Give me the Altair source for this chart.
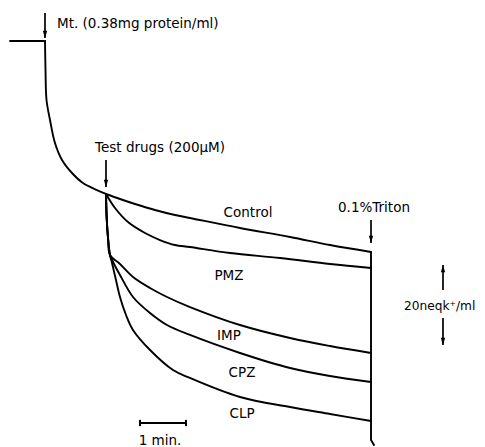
import altair as alt
import pandas as pd

# time in minutes (Mt. addition at t=0), K+ released in neq/ml (downward)
base_t = [-0.76, 0.0]
base_k = [0.0, 0.0]

init_t = [0.0, 0.011, 0.033, 0.109, 0.217, 0.370, 0.587, 0.826, 1.130, 1.326]
init_k = [0.0, 7.44, 15.13, 20.26, 26.15, 30.51, 33.85, 36.41, 38.21, 39.23]

control_t = [1.326, 1.630, 1.957, 2.391, 2.826, 3.152, 4.239, 5.326, 6.196, 7.087]
control_k = [39.23, 40.51, 41.79, 43.33, 44.62, 45.38, 47.95, 50.26, 52.31, 54.10]

pmz_t = [1.326, 1.522, 1.804, 2.174, 2.500, 2.826, 3.152, 4.022, 5.109, 6.196, 7.087]
pmz_k = [39.23, 42.82, 46.41, 49.23, 51.03, 52.31, 52.82, 54.36, 55.64, 57.18, 58.21]

stem_t = [1.326, 1.341, 1.370, 1.413]
stem_k = [39.23, 45.38, 50.51, 54.87]

imp_t = [1.630, 1.913, 2.283, 2.652, 3.152, 4.239, 5.326, 6.196, 7.087]
imp_k = [57.18, 60.51, 63.33, 65.64, 68.21, 72.82, 76.15, 78.21, 80.00]

cpz_t = [1.457, 1.630, 1.913, 2.283, 2.652, 3.152, 4.239, 5.326, 6.196, 7.087]
cpz_k = [56.15, 60.00, 65.64, 69.74, 72.82, 75.38, 80.00, 83.85, 85.90, 87.44]

clp_t = [1.457, 1.543, 1.630, 1.761, 1.913, 2.283, 2.783, 3.152, 4.239, 5.326, 6.196, 7.087]
clp_k = [56.92, 61.28, 65.64, 70.26, 74.10, 79.23, 84.36, 86.41, 91.28, 93.85, 95.64, 97.44]

triton_t = [7.087, 7.087, 7.152]
triton_k = [54.10, 102.31, 103.59]

# annotations
label_text = ["Mt. (0.38mg protein/ml)", "Test drugs (200\u03bcM)", "Control", "PMZ", "IMP",
              "CPZ", "CLP", "0.1%Triton", "1 min."]
label_t = [0.261, 1.087, 4.413, 4.0, 4.0, 4.283, 4.283, 7.152, 2.5]
label_k = [-3.33, 28.46, 45.13, 61.28, 76.67, 86.15, 96.67, 43.85, 103.6]
label_align = ["left", "left", "center", "center", "center", "center", "center", "center", "center"]

scale_text = ["20neqk\u207a/ml"]
scale_t = [7.804]
scale_k = [68.97]

arrow_t = [0.0, 1.326, 7.087, 8.652, 8.652]
arrow_from = [-7.18, 30.51, 45.90, 63.85, 71.03]
arrow_to = [-0.77, 37.44, 51.79, 57.44, 77.95]
arrow_dir = ["down", "down", "down", "up", "down"]

bar_t = [2.065, 3.065]
bar_k = 97.95

curve_rows, straight_rows = [], []
def add(rows, name, ts, ks):
    for i, (t, k) in enumerate(zip(ts, ks)):
        rows.append({"series": name, "i": i, "t": t, "k": k})

add(straight_rows, "base", base_t, base_k)
add(curve_rows, "init", init_t, init_k)
add(curve_rows, "Control", control_t, control_k)
add(curve_rows, "PMZ", pmz_t, pmz_k)
add(curve_rows, "IMP", stem_t + imp_t, stem_k + imp_k)
add(curve_rows, "CPZ", stem_t + cpz_t, stem_k + cpz_k)
add(curve_rows, "CLP", stem_t + clp_t, stem_k + clp_k)
add(straight_rows, "Triton", triton_t, triton_k)
curves = pd.DataFrame(curve_rows)
straights = pd.DataFrame(straight_rows)

labels = pd.DataFrame({"text": label_text, "t": label_t, "k": label_k, "align": label_align})
scale_lab = pd.DataFrame({"text": scale_text, "t": scale_t, "k": scale_k})
arrows = pd.DataFrame({"t": arrow_t, "k1": arrow_from, "k2": arrow_to, "dir": arrow_dir})
bar = pd.DataFrame({"t1": [bar_t[0]], "t2": [bar_t[1]], "k": [bar_k]})
bar_ends = pd.DataFrame({"t": bar_t, "k1": [bar_k - 0.8] * 2, "k2": [bar_k + 0.8] * 2})

xs = alt.Scale(domain=[-0.8043, 9.3913], nice=False, zero=False)
ys = alt.Scale(domain=[-8.4615, 104.103], reverse=True, nice=False, zero=False)
X = lambda f: alt.X(f, type="quantitative", scale=xs, axis=None)
Y = lambda f: alt.Y(f, type="quantitative", scale=ys, axis=None)

curve_lines = alt.Chart(curves).mark_line(
    color="black", strokeWidth=1.9, strokeCap="round", interpolate="catmull-rom").encode(
    x=X("t"), y=Y("k"), detail="series:N", order="i:Q")
straight_lines = alt.Chart(straights).mark_line(
    color="black", strokeWidth=1.9, strokeCap="round").encode(
    x=X("t"), y=Y("k"), detail="series:N", order="i:Q")

shafts = alt.Chart(arrows).mark_rule(color="black", strokeWidth=1.7).encode(
    x=X("t"), y=Y("k1"), y2="k2:Q")

down_path = "M-1.1,-3.6L1.1,-3.6L0,0Z"
up_path = "M-1.1,3.6L1.1,3.6L0,0Z"
heads_down = alt.Chart(arrows).transform_filter(alt.datum.dir == "down").mark_point(
    shape=down_path, filled=True, color="black", size=16, opacity=1).encode(x=X("t"), y=Y("k2"))
heads_up = alt.Chart(arrows).transform_filter(alt.datum.dir == "up").mark_point(
    shape=up_path, filled=True, color="black", size=16, opacity=1).encode(x=X("t"), y=Y("k2"))

bar_line = alt.Chart(bar).mark_rule(color="black", strokeWidth=2).encode(
    x=X("t1"), x2="t2:Q", y=Y("k"))
bar_tick = alt.Chart(bar_ends).mark_rule(color="black", strokeWidth=2).encode(
    x=X("t"), y=Y("k1"), y2="k2:Q")

def text_layer(al):
    return alt.Chart(labels).transform_filter(alt.datum.align == al).mark_text(
        align=al, baseline="alphabetic", font="DejaVu Sans", fontSize=13.5, color="black"
    ).encode(x=X("t"), y=Y("k"), text="text:N")

scale_text_layer = alt.Chart(scale_lab).mark_text(
    align="left", baseline="alphabetic", font="DejaVu Sans", fontSize=12.2, color="black"
).encode(x=X("t"), y=Y("k"), text="text:N")

chart = alt.layer(curve_lines, straight_lines, shafts, heads_down, heads_up, bar_line, bar_tick,
                  text_layer("left"), text_layer("center"), scale_text_layer).properties(
    width=469, height=439, padding=0, autosize=alt.AutoSizeParams(type="none"),
    background="white"
).configure_view(stroke=None)

chart.save("out.html", embed_options={"renderer": "svg", "actions": False})
